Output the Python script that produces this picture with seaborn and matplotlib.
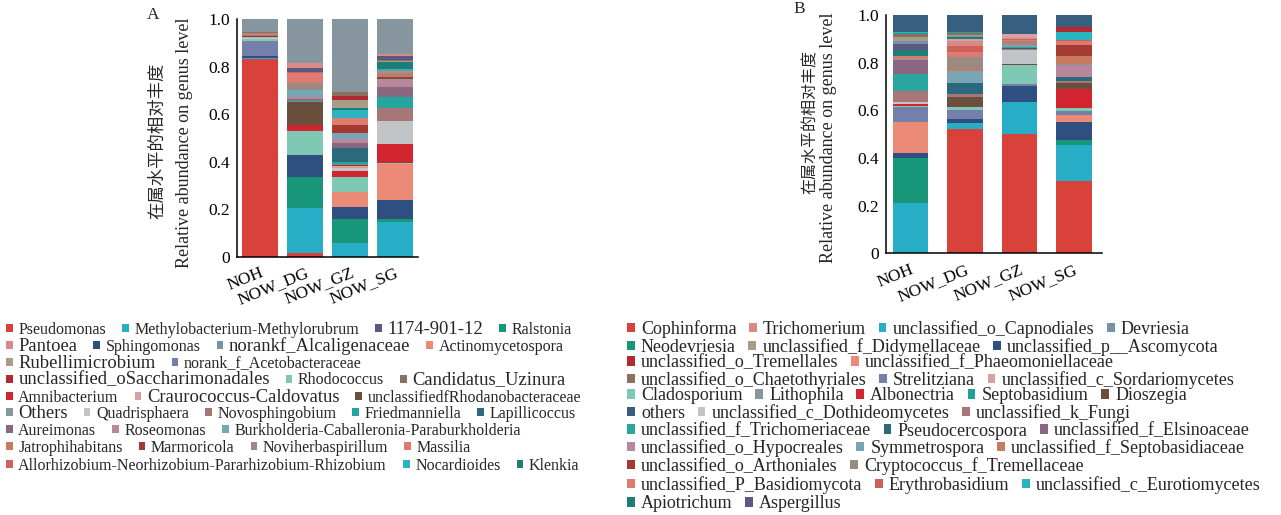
import matplotlib
matplotlib.use('Agg')
import matplotlib.pyplot as plt
import matplotlib.transforms as mtrans
from matplotlib.patches import Patch
import pandas as pd
import seaborn as sns

sns.set_style('white')
plt.rcParams['font.family'] = ['Liberation Serif', 'Noto Sans CJK SC']

W, H = 1281, 515

samples = ['NOH', 'NOW_DG', 'NOW_GZ', 'NOW_SG']

# ---------------- A: 细菌 (从下到上的堆叠顺序) ----------------
genera_a = [
    'Pseudomonas', 'Methylobacterium-Methylorubrum', 'Ralstonia', 'Sphingomonas',
    'Actinomycetospora', 'norankf_Alcaligenaceae', 'norank_f_Acetobacteraceae',
    'Rhodococcus', 'Amnibacterium', 'Quadrisphaera', 'Craurococcus-Caldovatus',
    'unclassifiedfRhodanobacteraceae', 'Novosphingobium', 'Friedmanniella',
    'Lapillicoccus', 'Aureimonas', 'Roseomonas',
    'Burkholderia-Caballeronia-Paraburkholderia', 'Marmoricola', 'Jatrophihabitans',
    'Noviherbaspirillum', 'Massilia', 'Nocardioides', 'Klenkia', 'Rubellimicrobium',
    'unclassified_oSaccharimonadales', 'Candidatus_Uzinura',
    'Allorhizobium-Neorhizobium-Pararhizobium-Rhizobium', '1174-901-12', 'Pantoea',
    'Others',
]
noh_a = [0.834, 0.003, 0.002, 0.006, 0.0, 0.0, 0.065, 0.006, 0.002, 0.002, 0.006,
         0.002, 0.004, 0.002, 0.0, 0.0, 0.002, 0.0, 0.002, 0.003, 0.0, 0.002, 0.0,
         0.0, 0.0, 0.0, 0.002, 0.0, 0.0, 0.0, 0.055]
dg_a = [0.015, 0.190, 0.130, 0.095, 0.0, 0.0, 0.0, 0.100, 0.023, 0.0, 0.0,
        0.097, 0.004, 0.004, 0.003, 0.004, 0.007, 0.030, 0.0, 0.0, 0.028, 0.042,
        0.0, 0.0, 0.0, 0.0, 0.0, 0.007, 0.017, 0.019, 0.185]
gz_a = [0.0, 0.059, 0.100, 0.049, 0.066, 0.0, 0.0, 0.063, 0.025, 0.010, 0.011,
        0.003, 0.004, 0.010, 0.057, 0.021, 0.017, 0.027, 0.033, 0.0, 0.0, 0.030,
        0.033, 0.007, 0.035, 0.018, 0.017, 0.0, 0.0, 0.0, 0.305]
sg_a = [0.0, 0.145, 0.015, 0.080, 0.150, 0.0, 0.0, 0.005, 0.080, 0.098, 0.0,
        0.0, 0.055, 0.046, 0.0, 0.042, 0.028, 0.006, 0.006, 0.010, 0.006, 0.010,
        0.010, 0.028, 0.004, 0.0, 0.003, 0.003, 0.015, 0.008, 0.147]
colors_a = [
    '#d9423a', '#27aec6', '#179679', '#2f4f80', '#ec8a78', '#7592ab', '#7580aa',
    '#7ec8b4', '#d22530', '#c2c5c8', '#d8a0a0', '#6b4f3c', '#a87676', '#24a59e',
    '#2b6a7e', '#8a6680', '#b8889a', '#78a6b4', '#a43a32', '#c87a60', '#9a8a82',
    '#de7a70', '#2ab4c0', '#1c7e76', '#a89c88', '#b02a30', '#8a7060', '#d0605a',
    '#5b5884', '#d98a88', '#86959e',
]

legend_rows_a = [
    ['Pseudomonas', 'Methylobacterium-Methylorubrum', '1174-901-12', 'Ralstonia'],
    ['Pantoea', 'Sphingomonas', 'norankf_Alcaligenaceae', 'Actinomycetospora'],
    ['Rubellimicrobium', 'norank_f_Acetobacteraceae'],
    ['unclassified_oSaccharimonadales', 'Rhodococcus', 'Candidatus_Uzinura'],
    ['Amnibacterium', 'Craurococcus-Caldovatus', 'unclassifiedfRhodanobacteraceae'],
    ['Others', 'Quadrisphaera', 'Novosphingobium', 'Friedmanniella', 'Lapillicoccus'],
    ['Aureimonas', 'Roseomonas', 'Burkholderia-Caballeronia-Paraburkholderia'],
    ['Jatrophihabitans', 'Marmoricola', 'Noviherbaspirillum', 'Massilia'],
    ['Allorhizobium-Neorhizobium-Pararhizobium-Rhizobium', 'Nocardioides', 'Klenkia'],
]
big_a = ['1174-901-12', 'Pantoea', 'norankf_Alcaligenaceae', 'Rubellimicrobium',
         'unclassified_oSaccharimonadales', 'Candidatus_Uzinura',
         'Craurococcus-Caldovatus', 'Others']

# ---------------- B: 真菌 (从下到上的堆叠顺序) ----------------
genera_b = [
    'Cophinforma', 'unclassified_o_Capnodiales', 'Neodevriesia',
    'unclassified_p__Ascomycota', 'unclassified_f_Phaeomoniellaceae', 'Strelitziana',
    'Cladosporium', 'Albonectria', 'Dioszegia', 'unclassified_c_Dothideomycetes',
    'unclassified_k_Fungi', 'Pseudocercospora', 'unclassified_f_Trichomeriaceae',
    'unclassified_f_Elsinoaceae', 'Symmetrospora', 'unclassified_o_Hypocreales',
    'Lithophila', 'unclassified_f_Septobasidiaceae', 'unclassified_o_Arthoniales',
    'Cryptococcus_f_Tremellaceae', 'unclassified_P_Basidiomycota', 'Erythrobasidium',
    'Trichomerium', 'unclassified_c_Sordariomycetes', 'Apiotrichum', 'Aspergillus',
    'Devriesia', 'unclassified_f_Didymellaceae', 'unclassified_o_Chaetothyriales',
    'Septobasidium', 'unclassified_c_Eurotiomycetes', 'unclassified_o_Tremellales',
    'others',
]
noh_b = [0.002, 0.208, 0.190, 0.020, 0.130, 0.063, 0.005, 0.008, 0.0, 0.010,
         0.045, 0.0, 0.070, 0.062, 0.0, 0.008, 0.0, 0.004, 0.0, 0.0, 0.003, 0.0,
         0.0, 0.0, 0.027, 0.025, 0.012, 0.015, 0.012, 0.005, 0.003, 0.0, 0.073]
dg_b = [0.520, 0.025, 0.0, 0.020, 0.0, 0.035, 0.012, 0.0, 0.045, 0.0,
        0.012, 0.046, 0.0, 0.0, 0.050, 0.0, 0.0, 0.010, 0.0, 0.048, 0.022, 0.025,
        0.020, 0.008, 0.008, 0.0, 0.006, 0.006, 0.005, 0.004, 0.0, 0.0, 0.073]
gz_b = [0.502, 0.134, 0.0, 0.066, 0.0, 0.010, 0.078, 0.0, 0.005, 0.058,
        0.004, 0.004, 0.003, 0.0, 0.006, 0.004, 0.004, 0.005, 0.0, 0.006, 0.005,
        0.005, 0.006, 0.017, 0.0, 0.0, 0.0, 0.0, 0.0, 0.0, 0.0, 0.0, 0.078]
sg_b = [0.302, 0.153, 0.020, 0.075, 0.030, 0.018, 0.010, 0.080, 0.025, 0.0,
        0.012, 0.015, 0.0, 0.0, 0.0, 0.050, 0.006, 0.032, 0.045, 0.0, 0.018,
        0.004, 0.0, 0.0, 0.0, 0.0, 0.0, 0.0, 0.0, 0.0, 0.033, 0.020, 0.052]
colors_b = [
    '#d9423a', '#27aec6', '#179679', '#2f4f80', '#ec8a78', '#7580aa', '#7ec8b4',
    '#d22530', '#6b4f3c', '#c2c5c8', '#a87676', '#2b6a7e', '#2aa6a0', '#8a6680',
    '#78a6b4', '#b8889a', '#86959e', '#c87a60', '#a43a32', '#9a8a82', '#de7a70',
    '#d0605a', '#d98a88', '#d8a0a0', '#1c7e76', '#5b5884', '#7592ab', '#a89c88',
    '#8a7060', '#22a098', '#2ab4c0', '#b02a30', '#365f80',
]

legend_rows_b = [
    ['Cophinforma', 'Trichomerium', 'unclassified_o_Capnodiales', 'Devriesia'],
    ['Neodevriesia', 'unclassified_f_Didymellaceae', 'unclassified_p__Ascomycota'],
    ['unclassified_o_Tremellales', 'unclassified_f_Phaeomoniellaceae'],
    ['unclassified_o_Chaetothyriales', 'Strelitziana', 'unclassified_c_Sordariomycetes'],
    ['Cladosporium', 'Lithophila', 'Albonectria', 'Septobasidium', 'Dioszegia'],
    ['others', 'unclassified_c_Dothideomycetes', 'unclassified_k_Fungi'],
    ['unclassified_f_Trichomeriaceae', 'Pseudocercospora', 'unclassified_f_Elsinoaceae'],
    ['unclassified_o_Hypocreales', 'Symmetrospora', 'unclassified_f_Septobasidiaceae'],
    ['unclassified_o_Arthoniales', 'Cryptococcus_f_Tremellaceae'],
    ['unclassified_P_Basidiomycota', 'Erythrobasidium', 'unclassified_c_Eurotiomycetes'],
    ['Apiotrichum', 'Aspergillus'],
]


def long_table(genera, cols):
    rows = []
    for s, vals in zip(samples, cols):
        for g, v in zip(genera, vals):
            rows.append({'sample': s, 'genus': g, 'value': v})
    return pd.DataFrame(rows)


def stacked(ax, genera, cols, colors, shrink, xlim):
    df = long_table(genera, cols)
    pal = dict(zip(genera, colors))
    # seaborn 把 hue_order 的第一个放在最上面
    sns.histplot(data=df, x='sample', weights='value', hue='genus',
                 hue_order=genera[::-1], multiple='stack', discrete=True,
                 shrink=shrink, palette=pal, alpha=1, linewidth=0,
                 legend=False, ax=ax)
    ax.set_xlim(*xlim)
    ax.set_ylim(0, 1)
    ax.set_yticks([0, 0.2, 0.4, 0.6, 0.8, 1.0])
    ax.set_yticklabels(['0', '0.2', '0.4', '0.6', '0.8', '1.0'])
    ax.set_xticks(range(len(samples)))
    ax.set_xticklabels(samples, rotation=22, ha='right', rotation_mode='anchor')
    off = mtrans.ScaledTranslation(7 / 100, 0, ax.figure.dpi_scale_trans)
    for lab in ax.get_xticklabels():
        lab.set_transform(lab.get_transform() + off)
    ax.tick_params(direction='in', length=3.5, width=1, labelsize=12.5,
                   colors='black', pad=5)
    ax.tick_params(axis='x', pad=6)
    for sp in ['top', 'right']:
        ax.spines[sp].set_visible(False)
    for sp in ['left', 'bottom']:
        ax.spines[sp].set_color('black')
        ax.spines[sp].set_linewidth(1.1)
    ax.set_xlabel('')
    ax.set_ylabel('')
    return pal


def row_legends(fig, rows, pal, x_px, y_list, size, spacing, big=(), big_size=None):
    for names, y_px in zip(rows, y_list):
        handles = [Patch(facecolor=pal[n], edgecolor='none', label=n) for n in names]
        leg = fig.legend(handles=handles, loc='center left',
                         bbox_to_anchor=(x_px / W, 1 - y_px / H),
                         ncol=len(names), frameon=False, fontsize=size,
                         handlelength=0.42, handleheight=0.42, handletextpad=0.35,
                         columnspacing=spacing, borderpad=0, borderaxespad=0)
        for t in leg.get_texts():
            if t.get_text() in big:
                t.set_fontsize(big_size)


fig = plt.figure(figsize=(W / 100, H / 100), dpi=100)

ax_a = fig.add_axes([236.7 / W, 1 - 256.7 / H, 181.6 / W, 237.4 / H])
pal_a = stacked(ax_a, genera_a, [noh_a, dg_a, gz_a, sg_a], colors_a, 0.81, (-0.518, 3.518))
ax_a.text(-0.433, 0.487, '在属水平的相对丰度', rotation=90, ha='center', va='center',
          fontsize=12.5, transform=ax_a.transAxes)
ax_a.text(-0.290, 0.479, 'Relative abundance on genus level', rotation=90,
          ha='center', va='center', fontsize=13, transform=ax_a.transAxes)
fig.text(147 / W, 1 - 15 / H, 'A', fontsize=12.5, va='center', ha='left')

ax_b = fig.add_axes([886 / W, 1 - 253.3 / H, 216.3 / W, 238.3 / H])
pal_b = stacked(ax_b, genera_b, [noh_b, dg_b, gz_b, sg_b], colors_b, 0.65, (-0.45, 3.52))
ax_b.text(-0.347, 0.55, '在属水平的相对丰度', rotation=90, ha='center', va='center',
          fontsize=11.5, transform=ax_b.transAxes)
ax_b.text(-0.264, 0.484, 'Relative abundance on genus level', rotation=90,
          ha='center', va='center', fontsize=13, transform=ax_b.transAxes)
fig.text(793 / W, 1 - 9 / H, 'B', fontsize=12.5, va='center', ha='left')

row_legends(fig, legend_rows_a, pal_a, 6,
            [329, 346, 363, 380, 397, 413, 431, 448, 466], 11.5, 1.0, big_a, 13.4)
row_legends(fig, legend_rows_b, pal_b, 627,
            [329, 347, 363, 380, 396, 413, 431, 448, 466, 485, 504], 13.0, 0.7)

fig.savefig('out.png', dpi=100)
